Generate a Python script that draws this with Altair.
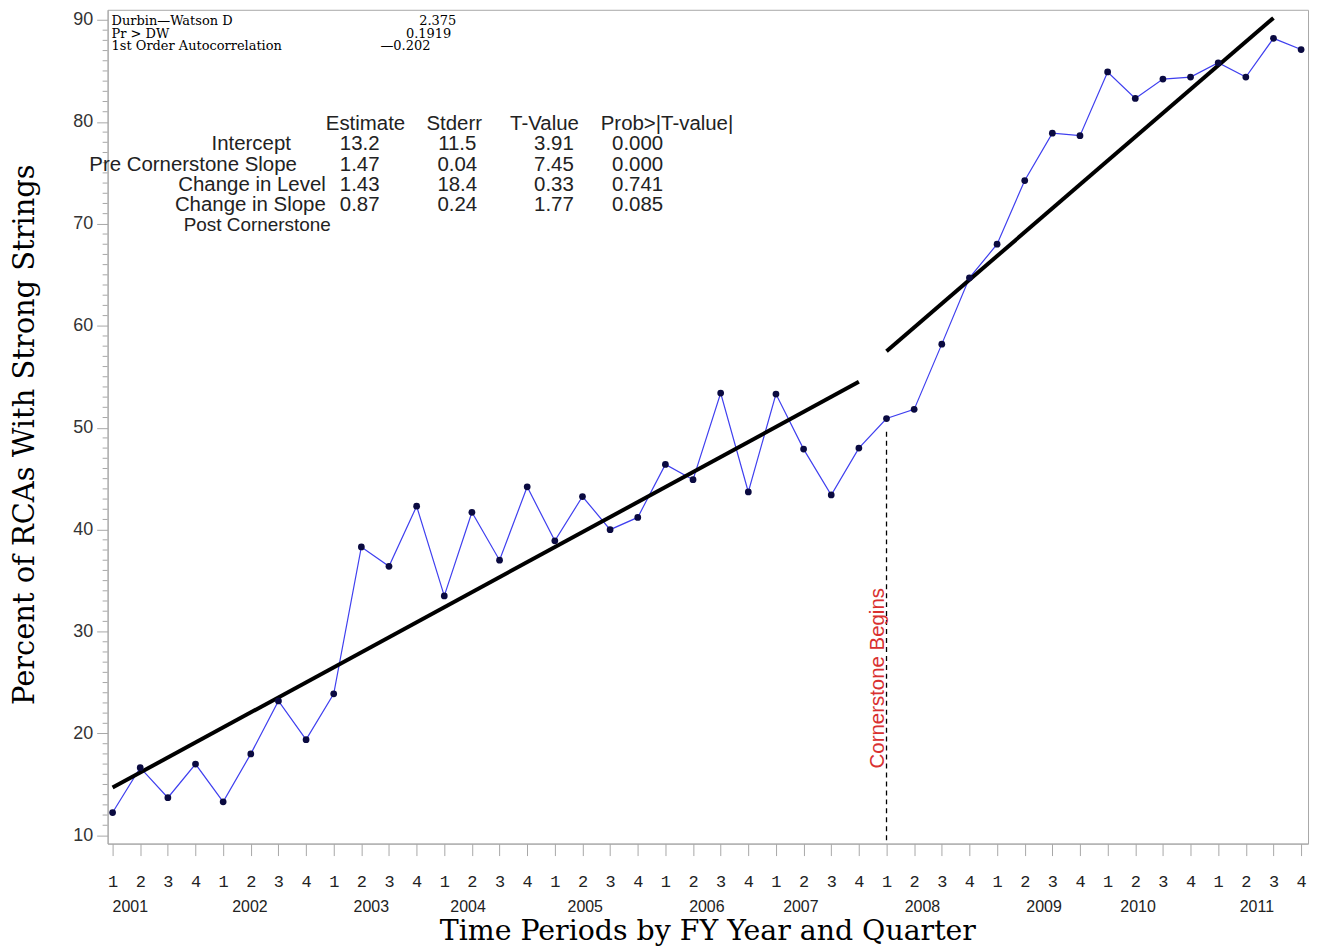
import json
import altair as alt
import pandas as pd

# ---------------- data ----------------
quarter_index = list(range(1, 45))
pct_strong = [12.25, 16.65, 13.7, 17.0, 13.3, 18.0, 23.2, 19.4, 23.9, 38.3,
              36.4, 42.3, 33.5, 41.7, 37.0, 44.2, 38.9, 43.25, 40.0, 41.2,
              46.4, 44.9, 53.4, 43.7, 53.3, 47.9, 43.4, 48.0, 50.9, 51.8,
              58.2, 64.7, 68.0, 74.25, 78.9, 78.65, 84.9, 82.3, 84.2, 84.4,
              85.8, 84.4, 88.2, 87.1]
quarter_labels = ["1", "2", "3", "4"]
years = ["2001", "2002", "2003", "2004", "2005", "2006", "2007", "2008", "2009", "2010", "2011"]
year_pos = [1.64, 5.97, 10.36, 13.86, 18.1, 22.5, 25.9, 30.3, 34.7, 38.1, 42.4]
pre_t = [1, 28]
pre_fit = [14.7, 54.5]
post_t = [29, 43]
post_fit = [57.5, 90.2]
start_t = [29]
start_val = [49.6]
y_ticks = list(range(10, 91, 10))
y_minor = [v for v in range(10, 91) if v % 10]

dw_names = ["Durbin\u2014Watson D", "Pr >  DW", "1st Order Autocorrelation"]
dw_vals = ["2.375", "0.1919", "\u20140.202"]
tbl_head = ["Estimate", "Stderr", "T-Value", "Prob>|T-value|"]
tbl_rows = ["Intercept", "Pre Cornerstone Slope", "Change in Level", "Change in Slope"]
tbl_est = ["13.2", "1.47", "1.43", "0.87"]
tbl_se = ["11.5", "0.04", "18.4", "0.24"]
tbl_t = ["3.91", "7.45", "0.33", "1.77"]
tbl_p = ["0.000", "0.000", "0.741", "0.085"]

# ---------------- layout ----------------
W, H = 1205, 837
OX, OY = 108, 8  # page position of the plot origin
XDOM = [0.82, 44.25]
YDOM = [9.2, 91.0]
GRAY = "#a8a8a8"
SANS = "Liberation Sans"
SERIF = "DejaVu Serif"
MONO = "Liberation Mono"

xs = alt.Scale(domain=XDOM, nice=False, zero=False)
ys = alt.Scale(domain=YDOM, nice=False, zero=False)

series = pd.DataFrame({"t": quarter_index, "pct": pct_strong})
lab_arr = json.dumps([quarter_labels[3]] + quarter_labels[:3])

x_axis = alt.Axis(values=quarter_index, labelExpr=f"{lab_arr}[datum.value % 4]",
                  labelFont=MONO, labelFontSize=17, labelColor="#222", labelPadding=18,
                  tickSize=12, tickColor=GRAY, domainColor=GRAY, grid=False,
                  labelFlush=False, labelOverlap=False, labelSeparation=0,
                  title="Time Periods by FY Year and Quarter", titleFont=SERIF,
                  titleFontSize=28.5, titleFontWeight="normal", titleColor="#000",
                  titleX=602, titleY=96, titleAlign="center", titleBaseline="alphabetic")
y_axis = alt.Axis(values=y_ticks, labelFont=SANS, labelFontSize=18, labelColor="#333",
                  labelPadding=4, tickSize=11, tickColor=GRAY, domainColor=GRAY, grid=False,
                  labelOverlap=False,
                  title="Percent of RCAs With Strong Strings", titleFont=SERIF,
                  titleFontSize=29, titleFontWeight="normal", titleColor="#000",
                  titleX=-74, titleY=426, titleAngle=270, titleAlign="center",
                  titleBaseline="alphabetic")


def X(field):
    return alt.X(field, scale=xs, axis=x_axis)


def Y(field):
    return alt.Y(field, scale=ys, axis=y_axis)


line = alt.Chart(series).mark_line(color="#3f3fef", strokeWidth=1.2).encode(
    x=X("t:Q"), y=Y("pct:Q"))
pts = alt.Chart(series).mark_circle(color="#0a0a40", opacity=1, size=46).encode(
    x=X("t:Q"), y=Y("pct:Q"))

fits = pd.DataFrame({"t": pre_t + post_t, "fit": pre_fit + post_fit,
                     "seg": ["pre", "pre", "post", "post"]})
fit_lines = alt.Chart(fits).mark_line(color="#000", strokeWidth=4, strokeCap="butt").encode(
    x=X("t:Q"), y=Y("fit:Q"), detail="seg:N")

start_df = pd.DataFrame({"t": start_t, "v": start_val})
start_rule = alt.Chart(start_df).mark_rule(color="#000", strokeWidth=1.3,
                                           strokeDash=[5, 4]).encode(
    x=X("t:Q"), y=Y("v:Q"), y2=alt.value(H))
start_text = alt.Chart(start_df).mark_text(
    text="Cornerstone Begins", angle=270, align="center", baseline="alphabetic",
    font=SANS, fontSize=20.5, color="#d93030", dy=-3).encode(
    x=X("t:Q"), y=alt.value(679 - OY))

minor = alt.Chart(pd.DataFrame({"v": y_minor})).mark_rule(color=GRAY, strokeWidth=1).encode(
    y=Y("v:Q"), x=alt.value(-5), x2=alt.value(0))

year_df = pd.DataFrame({"pos": year_pos, "year": years})
year_text = alt.Chart(year_df).mark_text(font=SANS, fontSize=16, color="#222",
                                         baseline="middle", align="center").encode(
    x=X("pos:Q"), y=alt.value(909 - OY), text="year:N")

one = pd.DataFrame({"a": [0]})


def label(txt, px, py, align="left", font=SANS, size=20.5, color="#222"):
    return alt.Chart(one).mark_text(text=txt, align=align, baseline="middle", font=font,
                                    fontSize=size, color=color).encode(
        x=alt.value(px - OX), y=alt.value(py - OY))


texts = []
# Durbin-Watson block
dw_y = [19.5, 32, 44.5]
dw_right = [458, 453, 432]
for name, val, yy, xr in zip(dw_names, dw_vals, dw_y, dw_right):
    texts.append(label(name, 112, yy, "left", SERIF, 13, "#000"))
    texts.append(label(val, xr, yy, "right", SERIF, 13, "#000"))

# estimates table
head_x = [327, 428, 512, 603]
for h, hx in zip(tbl_head, head_x):
    texts.append(label(h, hx, 123, "left"))
row_y = [143, 164, 184, 204]
row_right = [292, 298, 327, 327]
col_center = [361, 459, 556, 640]
for i, (r, yy, xr) in enumerate(zip(tbl_rows, row_y, row_right)):
    texts.append(label(r, xr, yy, "right"))
    for col, cx in zip([tbl_est, tbl_se, tbl_t, tbl_p], col_center):
        texts.append(label(col[i], cx, yy, "center"))
texts.append(label("Post Cornerstone", 332, 224, "right", size=19))

chart = alt.layer(line, fit_lines, pts, start_rule, start_text, minor, year_text, *texts).properties(
    width=W, height=H,
    autosize=alt.AutoSizeParams(type="none"),
    padding={"left": 100, "top": 0, "right": 6, "bottom": 102},
    background="white",
).configure_view(stroke=GRAY, strokeWidth=1).configure_axis(labelOverlap=False)

chart.save("out.html", embed_options={"renderer": "svg", "actions": False})
